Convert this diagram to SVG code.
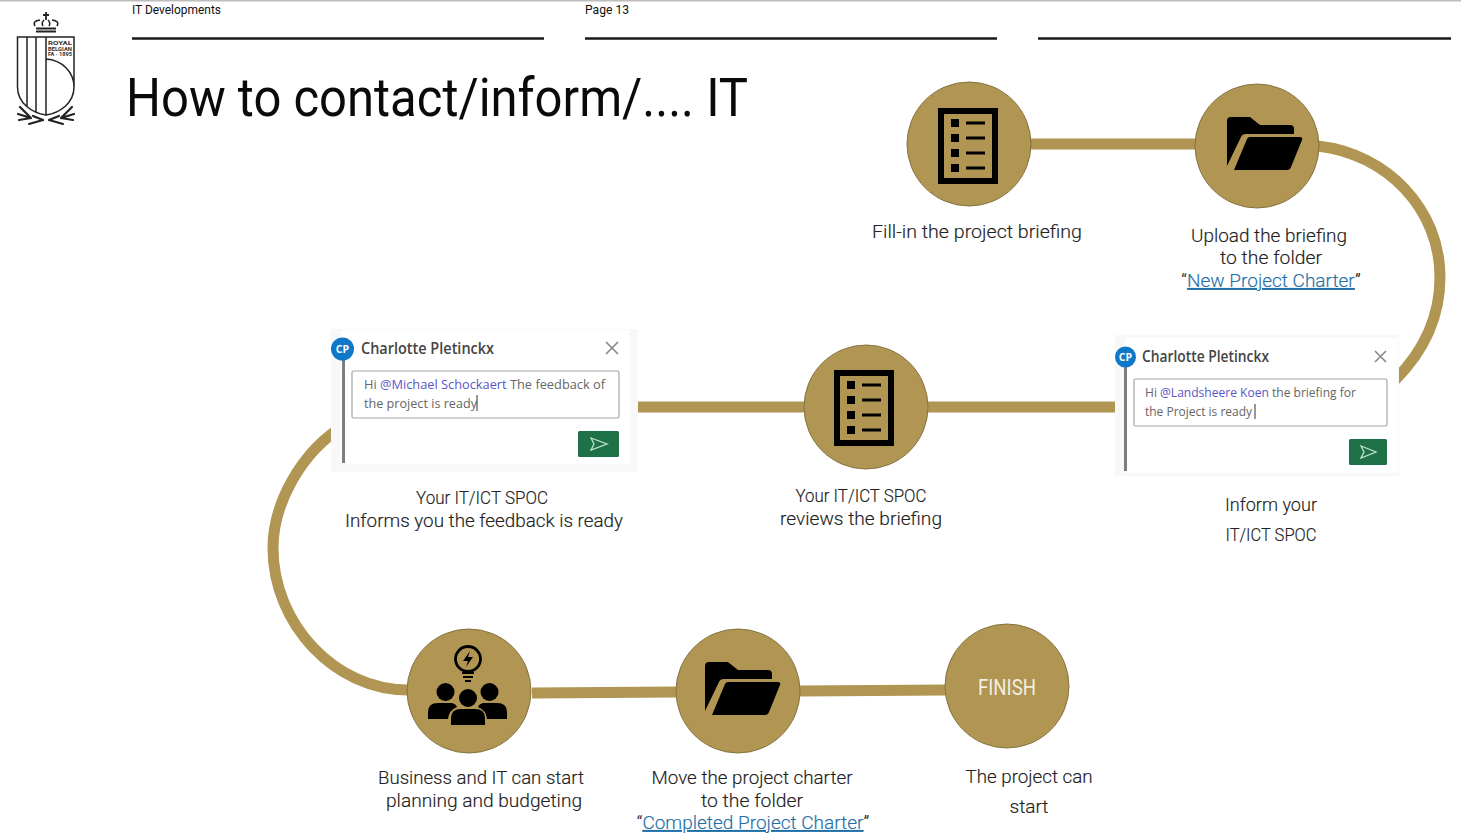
<svg xmlns="http://www.w3.org/2000/svg" width="1461" height="836" viewBox="0 0 1461 836">
<style>
text{font-family:"Roboto","Liberation Sans",sans-serif}
.lbl{font-size:19px;fill:#222;font-weight:300;text-anchor:middle;stroke:#222;stroke-width:.15}
.hdr{font-size:13px;fill:#111}
.rule{stroke:#1a1a1a;stroke-width:2.5;fill:none}
.conn{stroke:#b09652;stroke-width:11;fill:none}
.node{fill:#b09652;stroke:#857241;stroke-width:1}
.link{fill:#1f6fa8;stroke:#1f6fa8;text-decoration:underline}
.cname{font-family:"Open Sans","Noto Sans",sans-serif;font-size:15.5px;fill:#444;font-weight:600}
.msg{font-family:"Open Sans","Noto Sans",sans-serif;font-size:12.5px;fill:#666}
.men{fill:#5a54c8}
.bg{fill:#f8f8f8}
.card{fill:#fff}
.x{stroke:#888;stroke-width:1.6;fill:none}
.bar{fill:#7d7d7d}
.av{fill:#0f78c8}
.avt{font-family:"Open Sans",sans-serif;font-size:10.500px;font-weight:700;fill:#fff;text-anchor:middle}
.box{fill:#fff;stroke:#a5a5a5;stroke-width:1.200}
.btn{fill:#1f7147}
.snd{fill:none;stroke:#bfe3cd;stroke-width:1.300}
.ln{stroke:#000;stroke-width:3;fill:none}
.logo{stroke:#222;stroke-width:1.500;fill:none}
.leaf{stroke:#222;stroke-width:2.200;fill:none;stroke-linecap:round}
</style>
<defs>
<g id="list">
<rect x="-27" y="-35" width="54" height="70" fill="none" stroke="#000" stroke-width="6"/>
<rect x="-17" y="-27" width="8" height="8"/><rect x="-17" y="-12" width="8" height="8"/><rect x="-17" y="3" width="8" height="8"/><rect x="-17" y="18" width="8" height="8"/>
<path class="ln" d="M-2-23H17M-2-8H17M-2 7H17M-2 22H17"/>
</g>
<g id="folder">
<path d="M-31 21V-24Q-31-28-27-28H-8L2-20H32Q36-20 36-16V-11H-12Q-16-11-17-8Z"/>
<path d="M-24 25L-11-6Q-10-8-8-8H42Q45-8 44-5L33 22Q32 25 29 25Z"/>
</g>
</defs>
<rect width="1461" height="836" fill="#fff"/>
<rect width="1461" height="1.500" fill="#bdbdbd"/>
<g id="header">
<text class="hdr" x="132" y="14" textLength="89" lengthAdjust="spacingAndGlyphs">IT Developments</text>
<text class="hdr" x="585" y="14" textLength="44" lengthAdjust="spacingAndGlyphs">Page 13</text>
<path class="rule" d="M132 38.500H544M585 38.500H997M1038 38.500H1451"/>
<text x="126" y="116" font-size="54" fill="#0a0a0a" textLength="622" lengthAdjust="spacingAndGlyphs">How to contact/inform/.... IT</text>
</g>
<g id="logo">
<path class="logo" d="M17.500 37H74V87C74 103 60 113 46 115C32 113 17.500 103 17.500 87ZM27 37V106M36 37V112M46 37V115M46 59C62 60 74 72 74 87"/>
<path d="M46 12V20M43 15H49" stroke="#222" stroke-width="1.800" fill="none"/>
<path class="logo" d="M40 20Q32 21 35 26M52 20Q60 21 57 26M44 20Q41 23 43 26M48 20Q51 23 49 26"/>
<path d="M36 28.500H56M36 31.500H56" stroke="#222" stroke-width="1.800" fill="none"/>
<path class="leaf" d="M31 118L20 107M31 118L18 114M31 118L19 120M43 120L33 116M43 120L29 124M61 118L72 107M61 118L74 114M61 118L73 120M49 120L59 116M49 120L63 124"/>
<g font-size="5.500" font-weight="700" fill="#333"><text x="48" y="45" textLength="24" lengthAdjust="spacingAndGlyphs">ROYAL</text><text x="48" y="50.500" textLength="24" lengthAdjust="spacingAndGlyphs">BELGIAN</text><text x="48" y="56" textLength="24" lengthAdjust="spacingAndGlyphs">FA · 1895</text></g>
</g>
<g id="connectors">
<path class="conn" d="M1030 144H1197"/>
<path class="conn" d="M1318 146C1388 154 1440 210 1440 277C1440 318 1424 351 1395 380"/>
<path class="conn" d="M928 407H1115"/>
<path class="conn" d="M638 407H805"/>
<path class="conn" d="M345 425C300 452 273 505 273 548C273 624 335 690 408 690"/>
<path class="conn" d="M532 693L677 692"/>
<path class="conn" d="M800 691L946 690"/>
</g>
<g id="n1"><circle class="node" cx="969" cy="144" r="62"/><use href="#list" x="968" y="146"/>
<text class="lbl" x="977" y="238" textLength="210" lengthAdjust="spacingAndGlyphs">Fill-in the project briefing</text></g>
<g id="n2"><circle class="node" cx="1257" cy="146" r="62"/><use href="#folder" x="1258" y="145"/>
<text class="lbl" x="1269" y="242" textLength="156" lengthAdjust="spacingAndGlyphs">Upload the briefing</text>
<text class="lbl" x="1271" y="264" textLength="102" lengthAdjust="spacingAndGlyphs">to the folder</text>
<text class="lbl" x="1271" y="287" font-size="19">“<tspan class="link">New Project Charter</tspan>”</text></g>
<g id="n3">
<rect class="bg" x="1115" y="335" width="284" height="141"/>
<rect class="card" x="1125" y="338" width="273" height="135" rx="2"/>
<rect class="bar" x="1124" y="358" width="3" height="113"/>
<circle class="av" cx="1125.500" cy="357" r="10.500"/>
<text class="avt" x="1125.500" y="361">CP</text>
<path class="x" d="M1375 351L1386 362M1386 351L1375 362"/>
<rect class="box" x="1134" y="379" width="253" height="47" rx="1.500"/>
<rect class="btn" x="1349" y="439" width="38" height="26" rx="1.500"/>
<path class="snd" d="M1361 446L1376 452L1361 458L1364 452Z"/>
<text class="cname" x="1142" y="362" textLength="127" lengthAdjust="spacingAndGlyphs">Charlotte Pletinckx</text>
<text class="msg" x="1145" y="397" textLength="211" lengthAdjust="spacingAndGlyphs">Hi <tspan class="men">@Landsheere Koen</tspan> the briefing for</text>
<text class="msg" x="1145" y="416" textLength="107" lengthAdjust="spacingAndGlyphs">the Project is ready</text>
<path d="M1255 404V419" stroke="#333"/>
<text class="lbl" x="1271" y="511" textLength="92" lengthAdjust="spacingAndGlyphs">Inform your</text>
<text class="lbl" x="1271" y="541" textLength="91" lengthAdjust="spacingAndGlyphs">IT/ICT SPOC</text></g>
<g id="n4"><circle class="node" cx="866" cy="407" r="62"/><use href="#list" x="864" y="408"/>
<text class="lbl" x="861" y="502" textLength="131" lengthAdjust="spacingAndGlyphs">Your IT/ICT SPOC</text>
<text class="lbl" x="861" y="525" textLength="162" lengthAdjust="spacingAndGlyphs">reviews the briefing</text></g>
<g id="n5">
<rect class="bg" x="331" y="329" width="307" height="143"/>
<rect class="card" x="341" y="330" width="289" height="134" rx="2"/>
<rect class="bar" x="342" y="350" width="3" height="113"/>
<circle class="av" cx="342.500" cy="349" r="11.500"/>
<text class="avt" x="342.500" y="353">CP</text>
<path class="x" d="M606 342L618 354M618 342L606 354"/>
<rect class="box" x="352" y="371" width="267" height="47" rx="1.500"/>
<rect class="btn" x="578" y="431" width="41" height="26" rx="1.500"/>
<path class="snd" d="M591 438L607 444L591 450L594 444Z"/>
<text class="cname" x="361" y="354" textLength="133" lengthAdjust="spacingAndGlyphs">Charlotte Pletinckx</text>
<text class="msg" x="364" y="389" textLength="241" lengthAdjust="spacingAndGlyphs">Hi <tspan class="men">@Michael Schockaert</tspan> The feedback of</text>
<text class="msg" x="364" y="408" textLength="113" lengthAdjust="spacingAndGlyphs">the project is ready</text>
<path d="M477 395V411" stroke="#333"/>
<text class="lbl" x="482" y="504" textLength="132" lengthAdjust="spacingAndGlyphs">Your IT/ICT SPOC</text>
<text class="lbl" x="484" y="527" textLength="278" lengthAdjust="spacingAndGlyphs">Informs you the feedback is ready</text></g>
<g id="n6"><circle class="node" cx="469" cy="691" r="62"/>
<g><circle cx="468" cy="659" r="12.500" fill="none" stroke="#000" stroke-width="2.800"/>
<path d="M470 651L463 661H468L466 667L473 657H468Z"/>
<path d="M462 673H474M463 677H473M465 681H471" stroke="#000" stroke-width="2.200" fill="none"/>
<circle cx="445.500" cy="692" r="9"/><circle cx="489.500" cy="692" r="9"/><circle cx="468" cy="698" r="9"/>
<path d="M428 719V712Q428 703 438 703H452Q456 704 457 707Q449 710 448 719Z"/>
<path d="M507 719V712Q507 703 497 703H483Q479 704 478 707Q486 710 487 719Z"/>
<path d="M451 725V718Q451 709 461 709H475Q485 709 485 718V725Z"/></g>
<text class="lbl" x="481" y="784" textLength="206" lengthAdjust="spacingAndGlyphs">Business and IT can start</text>
<text class="lbl" x="484" y="807" textLength="196" lengthAdjust="spacingAndGlyphs">planning and budgeting</text></g>
<g id="n7"><circle class="node" cx="738" cy="691" r="62"/><use href="#folder" x="736" y="690"/>
<text class="lbl" x="752" y="784" textLength="201" lengthAdjust="spacingAndGlyphs">Move the project charter</text>
<text class="lbl" x="752" y="807" textLength="102" lengthAdjust="spacingAndGlyphs">to the folder</text>
<text class="lbl" x="753" y="829">“<tspan class="link">Completed Project Charter</tspan>”</text></g>
<g id="n8"><circle class="node" cx="1007" cy="686" r="62"/>
<text x="1007" y="695" font-size="22" fill="#f3efe3" text-anchor="middle" textLength="58" lengthAdjust="spacingAndGlyphs">FINISH</text>
<text class="lbl" x="1029" y="783" textLength="127" lengthAdjust="spacingAndGlyphs">The project can</text>
<text class="lbl" x="1029" y="813" textLength="39" lengthAdjust="spacingAndGlyphs">start</text></g>
</svg>
